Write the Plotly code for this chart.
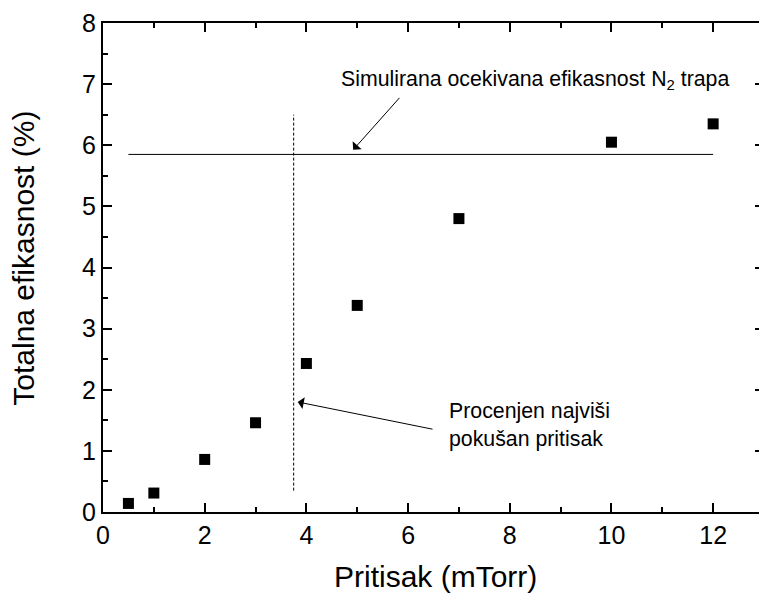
import plotly.graph_objects as go

# measured points
pressure = [0.5, 1, 2, 3, 4, 5, 7, 10, 12]
efficiency = [0.14, 0.31, 0.86, 1.46, 2.43, 3.38, 4.80, 6.05, 6.35]

# simulated expected efficiency of the N2 trap
sim_x = [0.5, 12]
sim_y = [5.85, 5.85]

# estimated highest tried pressure
limit_x = [3.75, 3.75]
limit_y = [0.35, 6.5]

FONT = "Liberation Sans, Arial, sans-serif"

fig = go.Figure()

fig.add_trace(go.Scatter(x=sim_x, y=sim_y, mode='lines',
                         line=dict(color='black', width=1), hoverinfo='skip'))
fig.add_trace(go.Scatter(x=limit_x, y=limit_y, mode='lines',
                         line=dict(color='black', width=1, dash='3px,2px'), hoverinfo='skip'))
fig.add_trace(go.Scatter(x=pressure, y=efficiency, mode='markers',
                         marker=dict(symbol='square', size=11, color='black')))

axis_common = dict(
    showline=True, linecolor='black', linewidth=2, mirror='ticks',
    ticks='inside', ticklen=9, tickwidth=1.5, tickcolor='black',
    showgrid=False, zeroline=False,
    tickfont=dict(family=FONT, size=25, color='black'),
)

# the original frame runs a little past the right edge of the picture
fig.update_xaxes(range=[0, 13], dtick=2, tick0=0,
                 minor=dict(dtick=1, ticks='inside', ticklen=5, tickwidth=1.5, tickcolor='black'),
                 **axis_common)
fig.update_yaxes(range=[0, 8], dtick=1, tick0=0,
                 minor=dict(dtick=0.5, ticks='inside', ticklen=5, tickwidth=1.5, tickcolor='black'),
                 **axis_common)

annotations = [
    # axis titles
    dict(text="Pritisak (mTorr)", xref='paper', yref='paper', x=0.5023, y=-0.131,
         xanchor='center', yanchor='middle',
         showarrow=False, font=dict(family=FONT, size=30, color='black')),
    dict(text="Totalna efikasnost (%)", xref='paper', yref='paper', x=-0.1207, y=0.5184,
         xanchor='center', yanchor='middle', textangle=-90,
         showarrow=False, font=dict(family=FONT, size=30, color='black')),
    # labels
    dict(text="Simulirana ocekivana efikasnost N<sub>2</sub> trapa", x=8.5, y=7.07,
         showarrow=False, font=dict(family=FONT, size=21.3, color='black')),
    dict(text="Procenjen najviši", x=6.765, y=1.66, xanchor='left',
         showarrow=False, font=dict(family=FONT, size=21.3, color='black')),
    dict(text="pokušan pritisak", x=6.765, y=1.20, xanchor='left',
         showarrow=False, font=dict(family=FONT, size=21.3, color='black')),
    # arrows
    dict(text="", x=4.92, y=5.925, ax=5.857, ay=6.80, axref='x', ayref='y',
         showarrow=True, arrowhead=1, arrowsize=2, arrowwidth=1, arrowcolor='black'),
    dict(text="", x=3.83, y=1.80, ax=6.51, ay=1.35, axref='x', ayref='y',
         showarrow=True, arrowhead=1, arrowsize=2, arrowwidth=1, arrowcolor='black'),
]

fig.update_layout(
    width=770, height=599,
    margin=dict(l=103, r=4, t=23, b=87),
    paper_bgcolor='white', plot_bgcolor='white',
    showlegend=False,
    annotations=annotations,
    font=dict(family=FONT, color='black'),
)

fig.write_html("out.html", config={'displayModeBar': False},
               post_script="document.body.style.margin='0';document.body.style.overflow='hidden';")
